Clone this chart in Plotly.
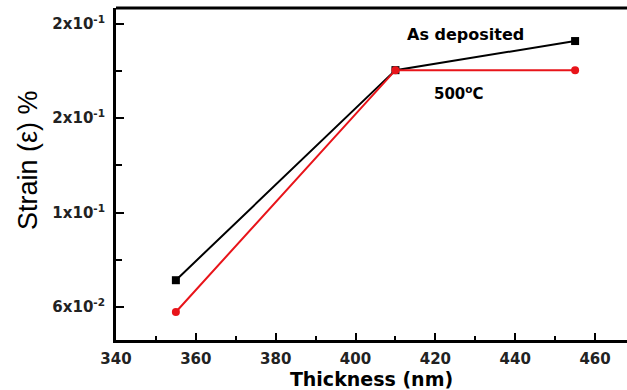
import plotly.graph_objects as go

thickness = [355, 410, 455]
strain_as_dep = [0.077, 0.2105, 0.229]
strain_500 = [0.0568, 0.2105, 0.2105]

ytick_vals = [0.06, 0.12, 0.18, 0.24]
ytick_text = ["6x10<sup>-2</sup>", "1x10<sup>-1</sup>", "2x10<sup>-1</sup>", "2x10<sup>-1</sup>"]
xtick_vals = [340, 360, 380, 400, 420, 440, 460]

fig = go.Figure()
fig.add_trace(go.Scatter(x=thickness, y=strain_as_dep, mode="lines+markers",
                         line=dict(color="black", width=2),
                         marker=dict(symbol="square", size=8, color="black"),
                         name="As deposited"))
fig.add_trace(go.Scatter(x=thickness, y=strain_500, mode="lines+markers",
                         line=dict(color="#e8141a", width=2),
                         marker=dict(symbol="circle", size=8, color="#e8141a"),
                         name="500°C"))

arial = "Liberation Sans, Arial, sans-serif"
dejavu = "DejaVu Sans, sans-serif"
fig.update_layout(
    width=627, height=390,
    margin=dict(l=116, r=0, t=8, b=50),
    paper_bgcolor="white", plot_bgcolor="white",
    showlegend=False,
    font=dict(family=arial, color="black"),
    xaxis=dict(range=[340, 468], tickvals=xtick_vals, ticks="inside", ticklen=7, tickwidth=2,
               tickcolor="black", showline=True, linewidth=3, linecolor="black",
               showgrid=False, zeroline=False, ticklabelstandoff=3,
               tickfont=dict(size=15, family=dejavu, color="#222", weight="bold"),
               minor=dict(ticks="inside", ticklen=4, tickwidth=2, tickcolor="black", dtick=10, tick0=350),
               title=dict(text="<b>Thickness (nm)</b>", font=dict(size=19, family=dejavu), standoff=1)),
    yaxis=dict(range=[0.039, 0.250], tickvals=ytick_vals, ticktext=ytick_text, ticks="inside",
               ticklen=8, tickwidth=2, tickcolor="black", showline=True, linewidth=3,
               linecolor="black", showgrid=False, zeroline=False, ticklabelstandoff=5,
               tickfont=dict(size=15, family=dejavu, color="#222", weight="bold"),
               minor=dict(ticks="inside", ticklen=6, tickwidth=2, tickcolor="black", dtick=0.03, tick0=0.03)),
)
fig.add_shape(type="line", xref="paper", yref="paper", x0=0, x1=1, y0=1, y1=1,
              line=dict(color="black", width=3))
fig.add_annotation(x=(28 - 116) / 511, y=(340 - 160) / 332, xref="paper", yref="paper",
                   xanchor="center", yanchor="middle", text="Strain (ε) %", textangle=-90,
                   showarrow=False, font=dict(size=27, family=arial))
fig.add_annotation(x=427.5, y=0.233, xref="x", yref="y", text="<b>As deposited</b>",
                   showarrow=False, font=dict(size=16, family=dejavu))
fig.add_annotation(x=426, y=0.196, xref="x", yref="y", text="<b>500<sup>o</sup>C</b>",
                   showarrow=False, font=dict(size=15, family=dejavu))
fig.write_html("out.html")
